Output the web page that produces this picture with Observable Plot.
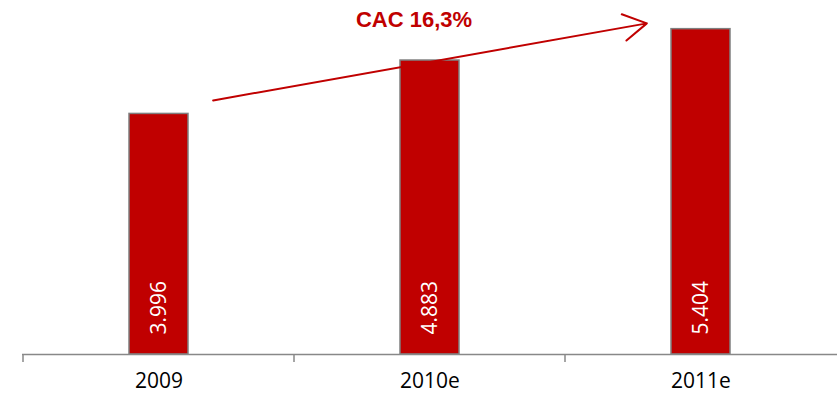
<!DOCTYPE html>
<html>
<head>
<meta charset="utf-8">
<script src="https://cdn.jsdelivr.net/npm/d3@7"></script>
<script src="https://cdn.jsdelivr.net/npm/@observablehq/plot@0.6"></script>
<style>
  html, body { margin: 0; padding: 0; background: #fff; }
  #chart { width: 837px; height: 398px; }
</style>
</head>
<body>
<div id="chart"></div>
<script>
const categories = ["2009", "2010e", "2011e"];
const values = [3.996, 4.883, 5.404];
const valueLabels = ["3.996", "4.883", "5.404"];
const cagrLabel = ["CAC 16,3%"];
const cagrLabelPos = [{x: "2010e", y: 5.55}];
const arrowFrom = [{x: "2009", y: 4.06}];
const arrowTo = [{x: "2011e", y: 5.66}];

const bars = categories.map((c, i) => ({cat: c, value: values[i], label: valueLabels[i]}));
const arrowData = arrowFrom.map((a, i) => ({x1: a.x, y1: a.y, x2: arrowTo[i].x, y2: arrowTo[i].y}));
const cagrData = cagrLabelPos.map((p, i) => ({x: p.x, y: p.y, text: cagrLabel[i]}));

const red = "#C00000";
const font = "'Open Sans', 'Liberation Sans', sans-serif";

const chart = Plot.plot({
  width: 837,
  height: 398,
  marginTop: 0,
  marginBottom: 44,
  marginLeft: 22,
  marginRight: 0,
  style: {fontFamily: font, background: "#fff"},
  x: {type: "band", domain: categories, padding: 0},
  y: {domain: [0, 5.88], axis: null},
  marks: [
    Plot.barY(bars, {x: "cat", y: "value", fill: red, stroke: "#7f7f7f", strokeWidth: 1.5, insetLeft: 106, insetRight: 106}),
    Plot.ruleY([0], {stroke: "#888", strokeWidth: 1.5}),
    Plot.axisX({tickSize: 8, tickFormat: null, dx: -136, stroke: "#888", strokeWidth: 1.5}),
    Plot.axisX({tickSize: 0, tickPadding: 19, fontSize: 21, fill: "#000", label: null}),
    Plot.text(bars, {x: "cat", y: 0, text: "label", rotate: -90, textAnchor: "start", lineAnchor: "middle", dy: -20, fill: "#fff", fontSize: 21}),
    Plot.arrow(arrowData, {x1: "x1", y1: "y1", x2: "x2", y2: "y2", stroke: red, strokeWidth: 2, headLength: 20, headAngle: 60, insetStart: 55, insetEnd: 55}),
    Plot.text(cagrData, {x: "x", y: "y", text: "text", dx: -16, fill: red, fontSize: 22, fontWeight: "bold", fontFamily: "'Liberation Sans', sans-serif", lineAnchor: "middle"})
  ]
});
document.getElementById("chart").appendChild(chart);
</script>
</body>
</html>
